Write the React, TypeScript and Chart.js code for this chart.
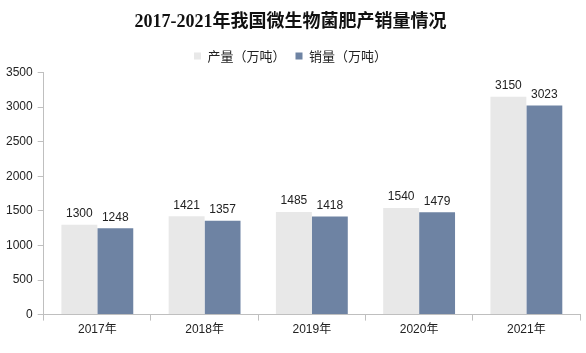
import React, { useEffect, useRef } from "react";
import { Chart, registerables } from "chart.js";

Chart.register(...registerables);

const categories = ["2017年", "2018年", "2019年", "2020年", "2021年"];
const production = [1300, 1421, 1485, 1540, 3150];
const sales = [1248, 1357, 1418, 1479, 3023];
const seriesNames = ["产量（万吨）", "销量（万吨）"];
const titleText = "2017-2021年我国微生物菌肥产销量情况";

const labelPlugin = {
  id: "barLabels",
  afterDatasetsDraw(chart: any) {
    const ctx = chart.ctx;
    ctx.save();
    ctx.font = "12px 'Liberation Sans', Arial, sans-serif";
    ctx.fillStyle = "#222";
    ctx.textAlign = "center";
    ctx.textBaseline = "bottom";
    chart.data.datasets.forEach((ds: any, i: number) => {
      const meta = chart.getDatasetMeta(i);
      meta.data.forEach((bar: any, j: number) => {
        ctx.fillText(String(ds.data[j]), bar.x, bar.y - 5);
      });
    });
    ctx.restore();
  },
};

export default function App() {
  const ref = useRef<HTMLCanvasElement>(null);
  useEffect(() => {
    document.body.style.margin = "0";
    const chart = new Chart(ref.current!, {
      type: "bar",
      data: {
        labels: categories,
        datasets: [
          { label: seriesNames[0], data: production, backgroundColor: "#E8E8E8", categoryPercentage: 0.67, barPercentage: 1 },
          { label: seriesNames[1], data: sales, backgroundColor: "#6E83A3", categoryPercentage: 0.67, barPercentage: 1 },
        ],
      },
      options: {
        animation: false,
        responsive: false,
        layout: { padding: { left: 1, right: 6, top: 0, bottom: 14 } },
        plugins: {
          title: {
            display: true,
            text: titleText,
            color: "#111",
            font: { family: "'Liberation Serif', 'Noto Sans CJK SC', serif", size: 18, weight: "bold" },
            padding: { top: 12, bottom: 6 },
          },
          legend: {
            labels: {
              usePointStyle: true,
              pointStyle: "rect",
              boxWidth: 7,
              boxHeight: 7,
              color: "#222",
              font: { family: "'Noto Sans CJK SC', sans-serif", size: 13 },
              padding: 10,
            },
          },
          tooltip: { enabled: false },
        },
        scales: {
          x: {
            grid: { display: true, drawOnChartArea: false, drawTicks: true, tickLength: 6, color: "#BFBFBF" },
            border: { display: true, color: "#BFBFBF" },
            ticks: { color: "#222", font: { family: "'Liberation Sans', 'Noto Sans CJK SC', sans-serif", size: 12 }, padding: 2 },
          },
          y: {
            min: 0,
            max: 3500,
            grid: { display: true, drawOnChartArea: false, drawTicks: true, tickLength: 6, color: "#BFBFBF" },
            border: { display: true, color: "#BFBFBF" },
            ticks: {
              stepSize: 500,
              color: "#222",
              font: { family: "'Liberation Sans', sans-serif", size: 12 },
              padding: 5,
              callback: (v: any) => String(v),
            },
          },
        },
      },
      plugins: [labelPlugin],
    });
    return () => chart.destroy();
  }, []);
  return <canvas ref={ref} width={586} height={353} />;
}
